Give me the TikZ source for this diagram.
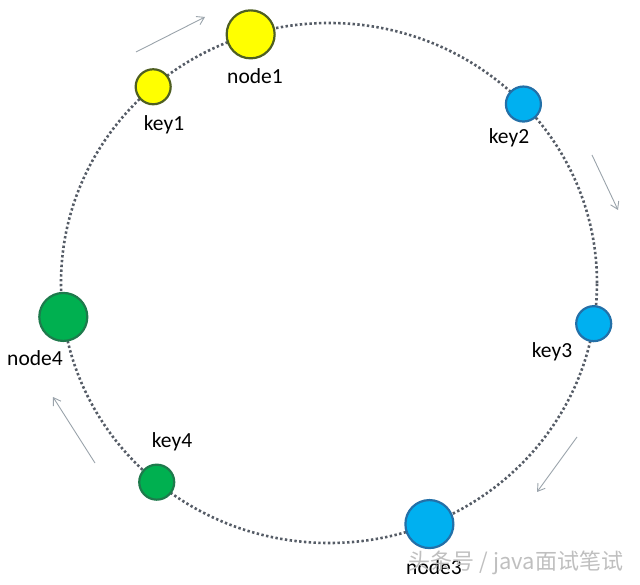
\documentclass[tikz,border=0pt]{standalone}
\usepackage{fontspec}
\setmainfont{Carlito}
\newfontfamily\cjk{Noto Sans CJK SC}
\usetikzlibrary{arrows.meta,calc}
\definecolor{ylw}{HTML}{FFFF00}
\definecolor{ylwb}{HTML}{4F5F22}
\definecolor{blu}{HTML}{00B0F0}
\definecolor{blub}{HTML}{2370A8}
\definecolor{grn}{HTML}{00B050}
\definecolor{grnb}{HTML}{1E7A4C}
\definecolor{ringc}{HTML}{555C66}
\definecolor{arrc}{HTML}{9AA3AB}
\tikzset{
  ring/.style={draw=ringc, line width=2.6pt, dash pattern=on 2.4pt off 2.4pt},
  bignode/.style={circle, minimum size=48pt, inner sep=0pt, line width=2.2pt},
  keynode/.style={circle, minimum size=35pt, inner sep=0pt, line width=2.2pt},
  ynode/.style={fill=ylw, draw=ylwb},
  bnode/.style={fill=blu, draw=blub},
  gnode/.style={fill=grn, draw=grnb},
  lbl/.style={font=\fontsize{21.5}{25}\selectfont, text=black, inner sep=0pt},
  flow/.style={draw=arrc, line width=0.9pt, -{Straight Barb[length=7pt,width=9pt]}},
  wmark/.style={font=\cjk\fontsize{22}{26}\selectfont, text=gray!50, inner sep=0pt}
}
\begin{document}
\begin{tikzpicture}[x=1pt,y=1pt]
\useasboundingbox (0,0) rectangle (640,584);
\coordinate (c) at (329,301);
\draw[ring] (c) ellipse [x radius=268, y radius=260];
% nodes on the ring
\node[bignode,ynode] (node1) at ($(c)+({268*cos(107)},{260*sin(107)})$) {};
\node[keynode,ynode] (key1) at ($(c)+({268*cos(131)},{260*sin(131)})$) {};
\node[keynode,bnode] (key2) at ($(c)+({268*cos(43.5)},{260*sin(43.5)})$) {};
\node[keynode,bnode] (key3) at ($(c)+({268*cos(-9)},{260*sin(-9)})$) {};
\node[bignode,bnode] (node3) at ($(c)+({268*cos(-68)},{260*sin(-68)})$) {};
\node[keynode,gnode] (key4) at ($(c)+({268*cos(-130)},{260*sin(-130)})$) {};
\node[bignode,gnode] (node4) at ($(c)+({268*cos(-172.5)},{260*sin(-172.5)})$) {};
% labels
\node[lbl] (l1) at (255,508) {node1};
\node[lbl] (lk1) at (164,459) {key1};
\node[lbl] (lk2) at (509,446) {key2};
\node[lbl] (lk3) at (552,232) {key3};
\node[lbl] (lk4) at (172,142) {key4};
\node[lbl] (l4) at (35,226) {node4};
\node[lbl] (l3) at (434,17) {node3};
% direction arrows
\coordinate (a1s) at (136,532); \coordinate (a1e) at (205,567);
\coordinate (a2s) at (592,429); \coordinate (a2e) at (618,374);
\coordinate (a3s) at (577,147); \coordinate (a3e) at (537,92);
\coordinate (a4s) at (95,121);  \coordinate (a4e) at (53,187);
\draw[flow] (a1s) -- (a1e);
\draw[flow] (a2s) -- (a2e);
\draw[flow] (a3s) -- (a3e);
\draw[flow] (a4s) -- (a4e);
% watermark
\node[wmark] (wm) at (516,21) {头条号 / java面试笔试};
\end{tikzpicture}
\end{document}
